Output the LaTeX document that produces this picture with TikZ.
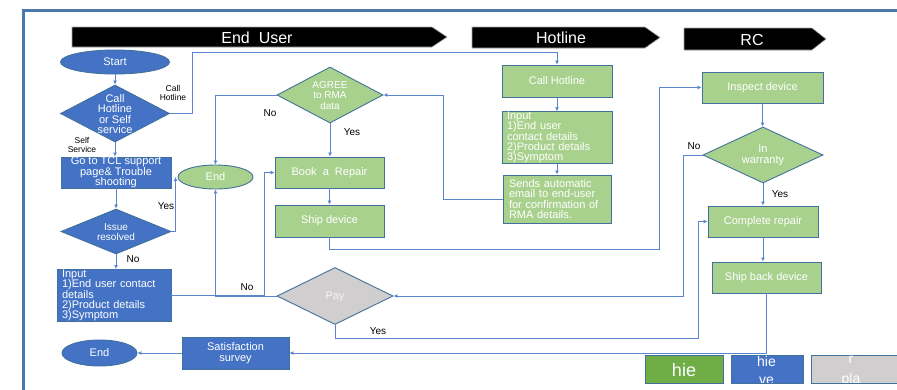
\documentclass[tikz,border=0pt]{standalone}
\usepackage{fontspec}
\setmainfont{Liberation Sans}
\usetikzlibrary{shapes.geometric,arrows.meta}
\definecolor{bfill}{HTML}{4472C4}
\definecolor{gfill}{HTML}{A9D18E}
\definecolor{pfill}{HTML}{D0CECE}
\definecolor{lgreen}{HTML}{70AD47}
\definecolor{edgec}{HTML}{41719C}
\definecolor{conn}{HTML}{5B85CF}
\definecolor{framec}{HTML}{4A7AAB}
\tikzset{
 box/.style={rectangle, draw=edgec, line width=0.9pt, inner sep=0pt, text=white, font=\fontsize{11}{10.4}\selectfont, align=center},
 bbox/.style={box, fill=bfill},
 gbox/.style={box, fill=gfill},
 ell/.style={ellipse, draw=edgec, line width=0.9pt, inner sep=0pt, text=white, font=\fontsize{11}{10.4}\selectfont},
 dia/.style={diamond, draw=edgec, line width=0.9pt, inner sep=0pt},
 dtxt/.style={text=white, font=\fontsize{11}{10.4}\selectfont, align=center, inner sep=0pt},
 arr/.style={draw=conn, line width=0.8pt, -{Latex[length=4pt,width=4pt]}},
 lbl/.style={font=\fontsize{10}{10}\selectfont, text=black, inner sep=0pt},
 slbl/.style={font=\fontsize{8.5}{9}\selectfont, text=black, inner sep=0pt, align=center},
 banner/.style={fill=black, draw=gray!70, line width=0.6pt},
 htxt/.style={text=white, font=\fontsize{16}{16}\selectfont, inner sep=0pt},
 legbox/.style={rectangle, draw=edgec, line width=0.8pt, inner sep=0pt},
 legtxt/.style={text=white, inner sep=0pt},
}
\begin{document}
\begin{tikzpicture}[x=1pt,y=-1pt]
\useasboundingbox (0,0) rectangle (897,389);
\fill[white] (0,0) rectangle (897,389);
% frame
\draw[framec, line width=3pt] (23,395) -- (23,10) -- (905,10);
% banners
\draw[banner] (72,27) -- (432,27) -- (447,37) -- (432,47) -- (72,47) -- cycle;
\node[htxt] (hEU) at (257,37.5) {End\ \ User};
\draw[banner] (472,27) -- (645,27) -- (660,37.5) -- (645,48) -- (472,48) -- cycle;
\node[htxt] (hHL) at (561,38) {Hotline};
\draw[banner] (684,28) -- (812,28) -- (826,39) -- (812,50) -- (684,50) -- cycle;
\node[htxt] (hRC) at (752,39.5) {RC};

% left column
\node[ell, fill=bfill, minimum width=109pt, minimum height=24pt] (start) at (115,62) {Start};
\node[dia, fill=bfill, minimum width=109pt, minimum height=57pt] (cd) at (115,113.5) {};
\node[dtxt] (cdt) at (115,114) {Call\\Hotline\\or Self\\service};
\node[bbox, minimum width=110pt, minimum height=31pt] (tcl) at (116,172.5) {Go to TCL support\\page\& Trouble\\shooting};
\node[ell, fill=gfill, minimum width=75pt, minimum height=24pt] (end1) at (215.5,177) {End};
\node[dia, fill=bfill, minimum width=110pt, minimum height=45pt] (ir) at (116,231.5) {};
\node[dtxt, font=\fontsize{10}{9.4}\selectfont] (irt) at (116,232) {Issue\\resolved};
\node[bbox, minimum width=114pt, minimum height=52pt, text width=104pt, align=left] (inp) at (114,295.5) {Input\\1)End user contact\\details\\2)Product details\\3)Symptom};
\node[ell, fill=bfill, minimum width=75pt, minimum height=26pt] (endb) at (99.5,353) {End};
\node[bbox, minimum width=107pt, minimum height=32pt] (sat) at (235.5,353) {Satisfaction\\survey};

% middle column
\node[dia, fill=gfill, minimum width=106pt, minimum height=56pt] (agree) at (330,95) {};
\node[dtxt, font=\fontsize{10}{10.4}\selectfont] (agreet) at (330,95.5) {AGREE\\to RMA\\data};
\node[gbox, minimum width=109pt, minimum height=31pt] (book) at (329.5,172.5) {Book\ \ a\ \ Repair};
\node[gbox, minimum width=109pt, minimum height=32pt] (ship) at (329.5,221) {Ship device};
\node[dia, fill=pfill, minimum width=116pt, minimum height=57pt] (pay) at (335,296) {};
\node[dtxt, text=white!92!gray] (payt) at (335,296.5) {Pay};

% hotline column
\node[gbox, minimum width=110pt, minimum height=32pt] (callh) at (557,81) {Call Hotline};
\node[gbox, minimum width=110pt, minimum height=51pt, text width=100pt, align=left] (hinp) at (557,137.5) {Input\\1)End user\\contact details\\2)Product details\\3)Symptom};
\node[gbox, minimum width=108pt, minimum height=48pt, text width=96pt, align=left] (sends) at (557,199) {Sends automatic\\email to end-user\\for confirmation of\\RMA details.};

% RC column
\node[gbox, minimum width=121pt, minimum height=31pt] (insp) at (762.5,87.5) {Inspect device};
\node[dia, fill=gfill, minimum width=120pt, minimum height=56pt] (warr) at (763,155) {};
\node[dtxt] (warrt) at (763,155.5) {In\\warranty};
\node[gbox, minimum width=110pt, minimum height=31pt] (comp) at (763,221.5) {Complete repair};
\node[gbox, minimum width=109pt, minimum height=31pt] (shipb) at (766.5,277.5) {Ship back device};

% helper coordinates
\coordinate (c1) at (192,52);
\coordinate (c3) at (264,172.5);
\coordinate (c4) at (659,249);
\coordinate (c5) at (443,199);
\coordinate (c6) at (683,155);
\coordinate (c7) at (698,338.5);

% connectors
\draw[arr] (start.south) -- (start.south |- cd.north);
\draw[arr] (cd.east) -| (c1) -| (callh.north);
\draw[arr] (cd.south) -- (cd.south |- tcl.north);
\draw[arr] (tcl.south) -- (tcl.south |- ir.north);
\draw[arr] (ir.east) -| ([xshift=-2pt]end1.west);
\draw[arr] (ir.south) -- (ir.south |- inp.north);
\draw[arr] (inp.east) -| (c3) -- (book.west);
\draw[arr] (pay.west) -| (end1.south);
\draw[arr] (agree.west) -| (end1.north);
\draw[arr] (agree.south) -- (agree.south |- book.north);
\draw[arr] (book.south) -- (book.south |- ship.north);
\draw[arr] (ship.south) |- (c4) |- (insp.west);
\draw[arr] (callh.south) -- (hinp.north);
\draw[arr] (hinp.south) -- (sends.north);
\draw[arr] (sends.west) -- (c5) |- (agree.east);
\draw[arr] (insp.south) -- (insp.south |- warr.north);
\draw[arr] (warr.west) -- (c6) |- (pay.east);
\draw[arr] (warr.south) -- (warr.south |- comp.north);
\draw[arr] (comp.south) -- (comp.south |- shipb.north);
\draw[arr] (pay.south) |- (c7) |- (comp.west);
\draw[arr] (shipb.south) |- (sat.east);
\draw[arr] (sat.west) -- (endb.east);

% labels
\node[slbl] (lch) at (173,93) {Call\\Hotline};
\node[slbl] (lss) at (82,144.5) {Self\\Service};
\node[lbl] (lyes1) at (166,206) {Yes};
\node[lbl] (lno1) at (133,259) {No};
\node[lbl] (lno2) at (247,287) {No};
\node[lbl] (lno3) at (270,113) {No};
\node[lbl] (lyes2) at (352,132) {Yes};
\node[lbl] (lyes3) at (378,331) {Yes};
\node[lbl] (lno4) at (694,146) {No};
\node[lbl] (lyes4) at (780,194) {Yes};

% legend
\node[legbox, fill=lgreen, minimum width=78pt, minimum height=28pt] (lgG) at (684,369) {};
\node[legtxt, font=\fontsize{18}{18}\selectfont] (lgGt) at (684,370) {hie};
\node[legbox, fill=bfill, minimum width=72pt, minimum height=28pt] (lgB) at (767,369) {};
\node[legbox, fill=pfill, minimum width=90pt, minimum height=28pt] (lgP) at (856,369) {};
\begin{scope}
\clip (731,355) rectangle (803,382.5);
\node[legtxt, font=\fontsize{14}{14}\selectfont] (lgBt1) at (766.5,361) {hie};
\node[legtxt, font=\fontsize{14}{14}\selectfont] (lgBt2) at (766.5,381) {ve};
\end{scope}
\begin{scope}
\clip (811,355) rectangle (901,382.5);
\node[legtxt, font=\fontsize{14}{14}\selectfont] (lgPt1) at (851,360) {r};
\node[legtxt, font=\fontsize{14}{14}\selectfont] (lgPt2) at (851,380) {pla};
\end{scope}
\end{tikzpicture}
\end{document}
